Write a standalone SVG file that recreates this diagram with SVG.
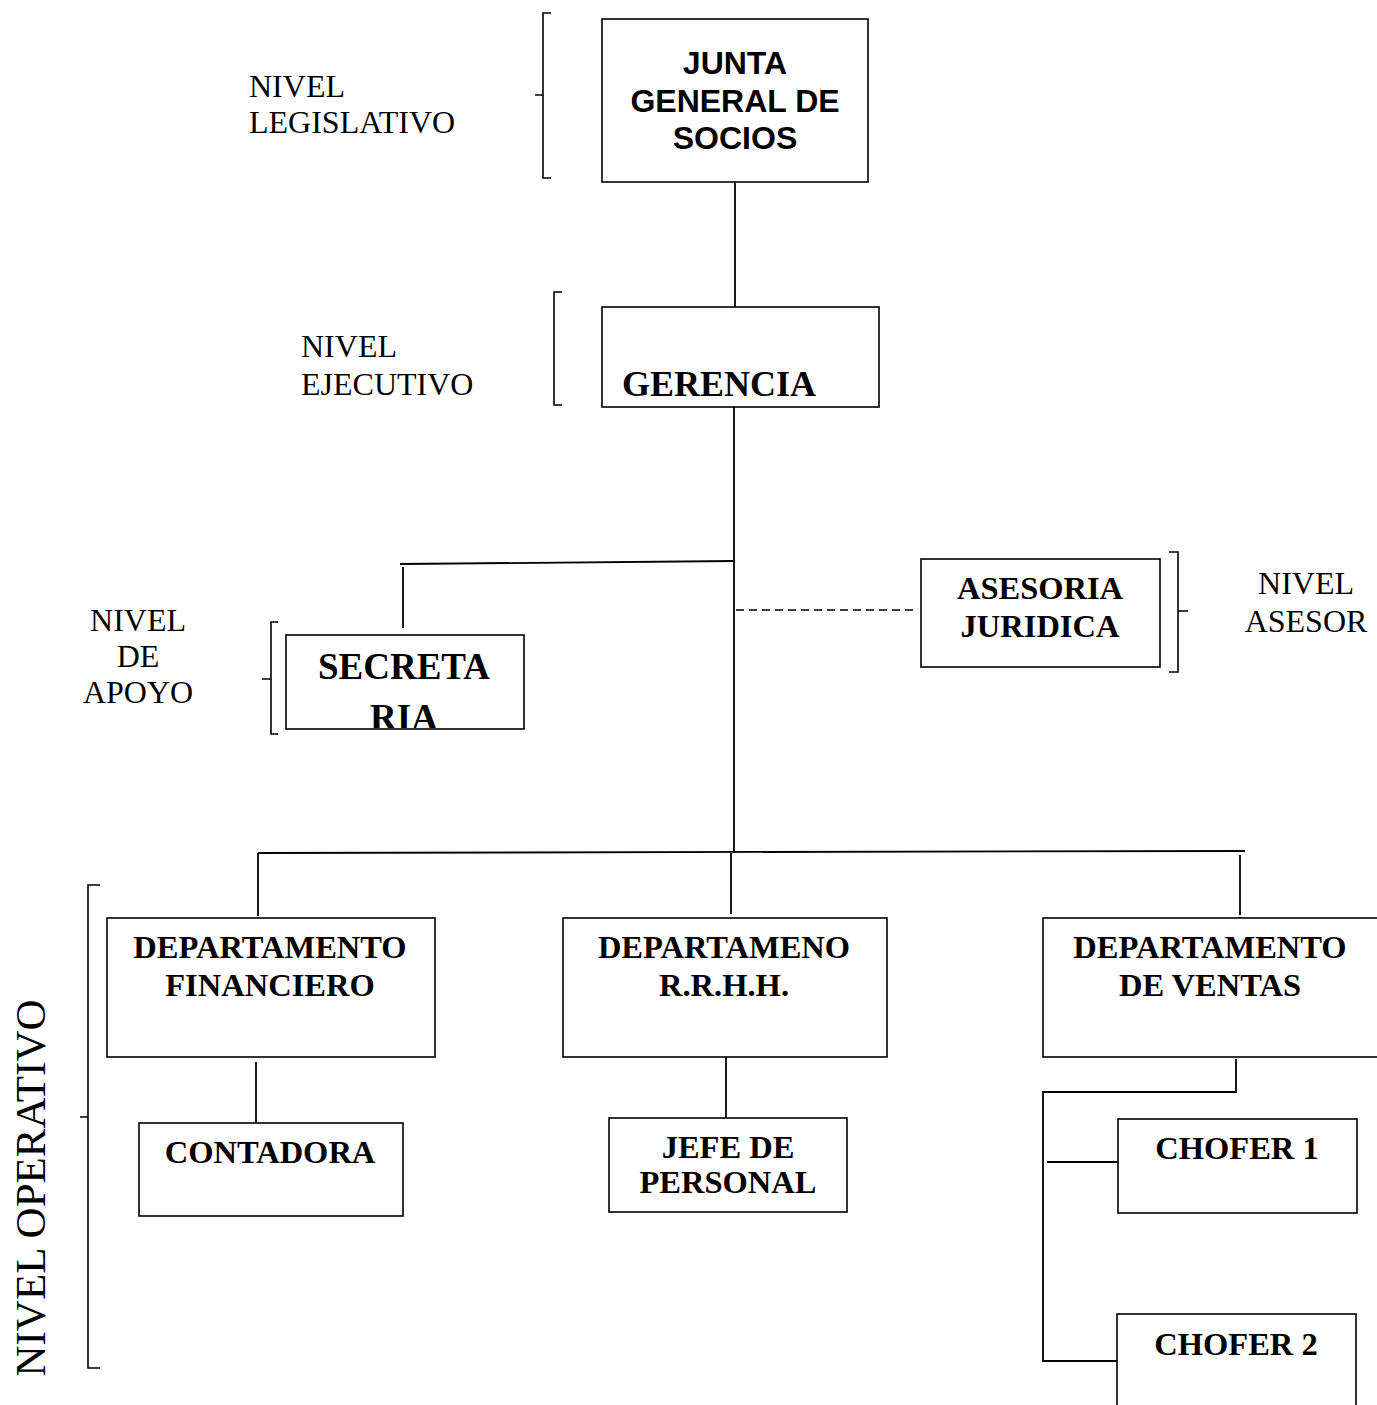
<svg xmlns="http://www.w3.org/2000/svg" width="1377" height="1405" viewBox="0 0 1377 1405">
<style>
.box{fill:#fff;stroke:#000;stroke-width:1.6}
.ln{fill:none;stroke:#000;stroke-width:1.8}
.br{fill:none;stroke:#000;stroke-width:1.6}
.dash{fill:none;stroke:#000;stroke-width:1.4;stroke-dasharray:8 5}
.sb{font-family:"Liberation Serif","Times New Roman",serif;font-weight:bold;font-size:32.5px;text-anchor:middle;fill:#000}
.big{font-size:37px}
.ger{font-size:36px;text-anchor:start}
.ab{font-family:"Liberation Sans",Arial,sans-serif;font-weight:bold;font-size:32px;text-anchor:middle;fill:#000}
.lv{font-family:"Liberation Serif","Times New Roman",serif;font-size:32px;fill:#000}
.mid{text-anchor:middle}
.op{font-size:43px;text-anchor:middle}
</style>
<defs>
<clipPath id="secClip"><rect x="287" y="636" width="236" height="92"/></clipPath>
</defs>
<rect width="1377" height="1405" fill="#fff"/>

<g id="connectors">
<path class="ln" d="M735,182 V307"/>
<path class="ln" d="M734,407 V853"/>
<path class="ln" d="M400,564 L734,561"/>
<path class="ln" d="M403,567 V628"/>
<path class="dash" d="M736,610 H918"/>
<path class="ln" d="M258,853 L1245,851"/>
<path class="ln" d="M258,853 V916"/>
<path class="ln" d="M731,853 V914"/>
<path class="ln" d="M1240,855 V915"/>
<path class="ln" d="M256,1062 V1123"/>
<path class="ln" d="M726,1057 V1118"/>
<path class="ln" d="M1236,1059 V1092 H1043 V1361 H1117"/>
<path class="ln" d="M1047,1162 H1118"/>
</g>

<g id="brackets">
<path class="br" d="M551,13 H543 V178 H551 M535,95 H543"/>
<path class="br" d="M562,292 H554 V405 H562"/>
<path class="br" d="M278,622 H271 V734 H278 M262,679 H271"/>
<path class="br" d="M1169,552 H1178 V672 H1169 M1178,611 H1188"/>
<path class="br" d="M100,885 H88 V1368 H100 M80,1117 H88"/>
</g>

<g id="level-labels">
<text class="lv" x="249" y="97">NIVEL</text>
<text class="lv" x="249" y="133">LEGISLATIVO</text>
<text class="lv" x="301" y="357">NIVEL</text>
<text class="lv" x="301" y="395">EJECUTIVO</text>
<text class="lv mid" x="138" y="631">NIVEL</text>
<text class="lv mid" x="138" y="667">DE</text>
<text class="lv mid" x="138" y="703">APOYO</text>
<text class="lv mid" x="1306" y="594">NIVEL</text>
<text class="lv mid" x="1306" y="632">ASESOR</text>
<text class="lv op" x="45" y="1188" transform="rotate(-90 45 1188)">NIVEL OPERATIVO</text>
</g>

<g id="junta">
<rect class="box" x="602" y="19" width="266" height="163"/>
<text class="ab" x="735" y="74">JUNTA</text>
<text class="ab" x="735" y="112">GENERAL DE</text>
<text class="ab" x="735" y="149">SOCIOS</text>
</g>

<g id="gerencia">
<rect class="box" x="602" y="307" width="277" height="100"/>
<text class="sb ger" x="622" y="396">GERENCIA</text>
</g>

<g id="secretaria">
<rect class="box" x="286" y="635" width="238" height="94"/>
<g clip-path="url(#secClip)">
<text class="sb big" x="404" y="679">SECRETA</text>
<text class="sb big" x="404" y="730">RIA</text>
</g>
</g>

<g id="asesoria">
<rect class="box" x="921" y="559" width="239" height="108"/>
<text class="sb" x="1040" y="599">ASESORIA</text>
<text class="sb" x="1040" y="637">JURIDICA</text>
</g>

<g id="dep-financiero">
<rect class="box" x="107" y="918" width="328" height="139"/>
<text class="sb" x="270" y="958">DEPARTAMENTO</text>
<text class="sb" x="270" y="996">FINANCIERO</text>
</g>

<g id="dep-rrhh">
<rect class="box" x="563" y="918" width="324" height="139"/>
<text class="sb" x="724" y="958">DEPARTAMENO</text>
<text class="sb" x="724" y="996">R.R.H.H.</text>
</g>

<g id="dep-ventas">
<rect class="box" x="1043" y="918" width="340" height="139"/>
<text class="sb" x="1210" y="958">DEPARTAMENTO</text>
<text class="sb" x="1210" y="996">DE VENTAS</text>
</g>

<g id="contadora">
<rect class="box" x="139" y="1123" width="264" height="93"/>
<text class="sb" x="270" y="1163">CONTADORA</text>
</g>

<g id="jefe-personal">
<rect class="box" x="609" y="1118" width="238" height="94"/>
<text class="sb" x="728" y="1158">JEFE DE</text>
<text class="sb" x="728" y="1193">PERSONAL</text>
</g>

<g id="chofer1">
<rect class="box" x="1118" y="1119" width="239" height="94"/>
<text class="sb" x="1237" y="1159">CHOFER 1</text>
</g>

<g id="chofer2">
<rect class="box" x="1117" y="1314" width="239" height="130"/>
<text class="sb" x="1236" y="1355">CHOFER 2</text>
</g>
</svg>
